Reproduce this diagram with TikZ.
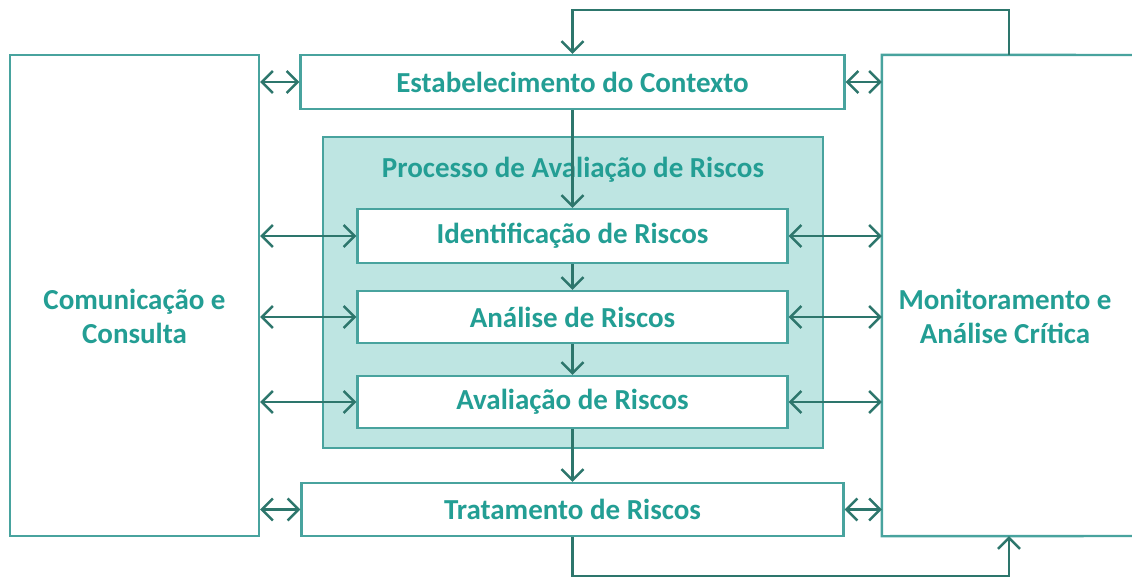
\documentclass[tikz,border=0pt]{standalone}
\usepackage{fontspec}
\setmainfont{Carlito}
\usetikzlibrary{arrows.meta}
\definecolor{boxc}{RGB}{72,163,158}
\definecolor{arrc}{RGB}{45,118,108}
\definecolor{txtc}{RGB}{35,158,148}
\definecolor{shadec}{RGB}{190,229,226}
\tikzset{
  barb/.tip={Straight Barb[length=11pt,width=22pt,line width=2.4pt]},
  box/.style={draw=boxc, line width=2.4pt, fill=white, inner sep=0pt,
    font=\fontsize{29}{34}\selectfont\bfseries, text=txtc, align=center},
  lbl/.style={inner sep=0pt, font=\fontsize{29}{34}\selectfont\bfseries, text=txtc, align=center},
  arr/.style={draw=arrc, line width=2.4pt, -barb},
  darr/.style={draw=arrc, line width=2.4pt, barb-barb},
}
\begin{document}
\begin{tikzpicture}[x=1pt,y=-1pt]
\useasboundingbox (0,0) rectangle (1132,578);
% side boxes
\node[box, minimum width=249pt, minimum height=481pt] (com) at (134.5,295.5) {};
\node[lbl] (comt) at (134.5,316) {Comunicação e\\Consulta};
\node[minimum width=246pt, minimum height=481pt, inner sep=0pt] (mon) at (1005,295.5) {};
\node[lbl] (mont) at (1005,316) {Monitoramento e\\Análise Crítica};
\draw[boxc, line width=2.4pt] (1140,55) -- (mon.north west) -- (mon.south west) -- (1140,536);
% process box
\node[draw=boxc, line width=2.4pt, fill=shadec, minimum width=500pt, minimum height=311pt, inner sep=0pt] (proc) at (573,292.5) {};
\node[lbl] (ptitle) at (573,170) {Processo de Avaliação de Riscos};
% boxes
\node[box, minimum width=544pt, minimum height=54pt] (est) at (572.5,82) {Estabelecimento do Contexto};
\node[box, minimum width=430pt, minimum height=54pt] (ident) at (572.5,236) {Identificação de Riscos};
\node[box, minimum width=430pt, minimum height=52pt] (anal) at (572.5,317) {Análise de Riscos};
\node[box, minimum width=430pt, minimum height=52pt] (aval) at (572.5,402) {Avaliação de Riscos};
\node[box, minimum width=542pt, minimum height=53pt] (trat) at (572.5,509.5) {Tratamento de Riscos};
% vertical flow
\draw[arr] (est) -- (ident);
\draw[arr] (ident) -- (anal);
\draw[arr] (anal) -- (aval);
\draw[arr] (aval) -- (trat);
% loops
\coordinate (t1) at (1009,10);
\coordinate (t2) at (572.5,10);
\coordinate (b1) at (572.5,576);
\coordinate (b2) at (1009,576);
\draw[arr] (t1 |- mon.north) -- (t1) -- (t2) -- (est.north);
\draw[arr] (trat.south) -- (b1) -- (b2) -- (b2 |- mon.south);
% side arrows
\draw[darr] (com.east |- est) -- (est.west);
\draw[darr] (est.east) -- (mon.west |- est);
\foreach \n in {ident,anal,aval}{
  \draw[darr] (com.east |- \n) -- (\n.west);
  \draw[darr] (\n.east) -- (mon.west |- \n);
}
\draw[darr] (com.east |- trat) -- (trat.west);
\draw[darr] (trat.east) -- (mon.west |- trat);
\end{tikzpicture}
\end{document}
